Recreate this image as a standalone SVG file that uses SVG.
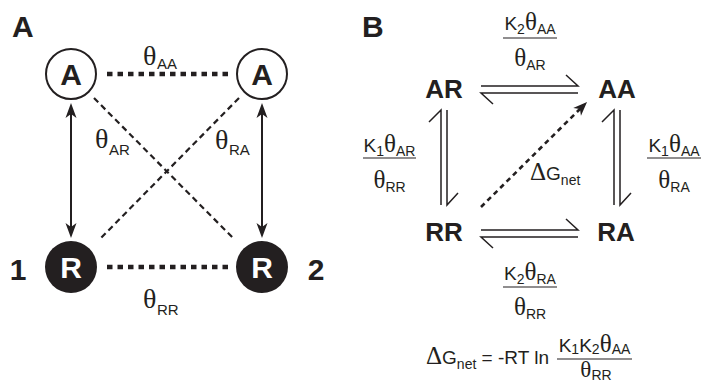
<svg xmlns="http://www.w3.org/2000/svg" width="703" height="383" viewBox="0 0 703 383">
<style>
.bold{font-family:"Liberation Sans",Arial,sans-serif;font-weight:bold;}
.lab{font-size:30px;}
.nd{font-size:30px;text-anchor:middle;}
.sp{font-size:26px;text-anchor:middle;}
.s{font-family:"Liberation Sans",Arial,sans-serif;font-size:19px;fill:#231f20;}
.th{font-family:"Liberation Serif","Times New Roman",serif;font-size:25px;}
.thA{font-family:"Liberation Serif","Times New Roman",serif;font-size:28px;}
.sub{font-size:14px;}
.subA{font-family:"Liberation Sans",Arial,sans-serif;font-size:15px;}
.dot{stroke:#231f20;stroke-width:4.5;stroke-dasharray:5.5 5;fill:none;}
.dash{stroke:#231f20;stroke-width:2.2;stroke-dasharray:6 4;fill:none;}
.arr{stroke:#231f20;stroke-width:2;fill:none;}
.eq{stroke:#231f20;stroke-width:1.5;fill:none;}
.fr{stroke:#231f20;stroke-width:1.2;}
</style>
<defs>
<marker id="ah" markerUnits="userSpaceOnUse" viewBox="-16 -8 18 16" refX="-4" refY="0" markerWidth="18" markerHeight="16" orient="auto-start-reverse" overflow="visible">
<path d="M0,0 L-15,-5.5 L-11,0 L-15,5.5 Z" fill="#231f20"/>
</marker>
<marker id="ah2" markerUnits="userSpaceOnUse" viewBox="-16 -8 18 16" refX="-4" refY="0" markerWidth="18" markerHeight="16" orient="auto" overflow="visible">
<path d="M0,0 L-14,-5.5 L-10,0 L-14,5.5 Z" fill="#231f20"/>
</marker>
</defs>

<g id="panelA-label"><text class="bold lab" x="12" y="37" fill="#231f20">A</text></g>
<g id="panelB-label"><text class="bold lab" x="362" y="37" fill="#231f20">B</text></g>

<g id="connectors">
<line class="dot" x1="107" y1="74" x2="228" y2="74"/>
<line class="dot" x1="107" y1="267" x2="228" y2="267"/>
<line class="dash" x1="94" y1="98" x2="233" y2="238"/>
<line class="dash" x1="239" y1="98" x2="99" y2="240"/>
<line class="arr" x1="71" y1="107" x2="71" y2="234" marker-start="url(#ah)" marker-end="url(#ah)"/>
<line class="arr" x1="262" y1="107" x2="262" y2="234" marker-start="url(#ah)" marker-end="url(#ah)"/>
<path class="eq" d="M481,86 H578 L566,75"/>
<path class="eq" d="M578,93 H481 L493,104"/>
<path class="eq" d="M481,230 H578 L566,219"/>
<path class="eq" d="M578,237 H481 L493,248"/>
<path class="eq" d="M441,205 V110 L429,122"/>
<path class="eq" d="M447,110 V205 L458,193"/>
<path class="eq" d="M614,205 V110 L602,122"/>
<path class="eq" d="M620,110 V205 L631,193"/>
<line x1="481" y1="207" x2="584.2" y2="104.8" stroke="#231f20" stroke-width="2.6" stroke-dasharray="5 4" marker-end="url(#ah2)"/>
</g>

<g id="nodeA1"><circle cx="71" cy="74" r="25" fill="#fff" stroke="#231f20" stroke-width="2"/><text class="bold nd" x="71" y="85" fill="#231f20">A</text></g>
<g id="nodeA2"><circle cx="262" cy="74" r="25" fill="#fff" stroke="#231f20" stroke-width="2"/><text class="bold nd" x="262" y="85" fill="#231f20">A</text></g>
<g id="nodeR1"><circle cx="71" cy="267" r="26" fill="#231f20"/><text class="bold nd" x="71" y="278" fill="#fff">R</text></g>
<g id="nodeR2"><circle cx="262" cy="267" r="26" fill="#231f20"/><text class="bold nd" x="262" y="278" fill="#fff">R</text></g>
<g id="num1"><text class="bold nd" x="18" y="280" fill="#231f20">1</text></g>
<g id="num2"><text class="bold nd" x="316" y="280" fill="#231f20">2</text></g>

<g id="thetaA" fill="#231f20">
<text class="thA" x="143" y="65">θ</text><text class="subA" x="157" y="69">AA</text>
<text class="thA" x="95" y="148">θ</text><text class="subA" x="109" y="155">AR</text>
<text class="thA" x="215" y="149">θ</text><text class="subA" x="229" y="155">RA</text>
<text class="thA" x="143" y="308">θ</text><text class="subA" x="157" y="315">RR</text>
</g>

<g id="nodeAR"><text class="bold sp" x="444" y="98" fill="#231f20">AR</text></g>
<g id="nodeAA"><text class="bold sp" x="617" y="98" fill="#231f20">AA</text></g>
<g id="nodeRR"><text class="bold sp" x="444" y="241" fill="#231f20">RR</text></g>
<g id="nodeRA"><text class="bold sp" x="616" y="241" fill="#231f20">RA</text></g>

<g id="fracTop">
<text class="s" x="530" y="30" text-anchor="middle">K<tspan class="sub" dy="4">2</tspan><tspan class="th" dy="-4">θ</tspan><tspan class="sub" dy="4">AA</tspan></text>
<line class="fr" x1="503" y1="38" x2="557" y2="38"/>
<text class="s" x="530" y="66" text-anchor="middle"><tspan class="th">θ</tspan><tspan class="sub" dy="4">AR</tspan></text>
</g>
<g id="fracLeft">
<text class="s" x="389.5" y="152" text-anchor="middle">K<tspan class="sub" dy="4">1</tspan><tspan class="th" dy="-4">θ</tspan><tspan class="sub" dy="4">AR</tspan></text>
<line class="fr" x1="363" y1="158" x2="416" y2="158"/>
<text class="s" x="389.5" y="188" text-anchor="middle"><tspan class="th">θ</tspan><tspan class="sub" dy="4">RR</tspan></text>
</g>
<g id="fracRight">
<text class="s" x="674" y="152" text-anchor="middle">K<tspan class="sub" dy="4">1</tspan><tspan class="th" dy="-4">θ</tspan><tspan class="sub" dy="4">AA</tspan></text>
<line class="fr" x1="647" y1="158" x2="701" y2="158"/>
<text class="s" x="674" y="188" text-anchor="middle"><tspan class="th">θ</tspan><tspan class="sub" dy="4">RA</tspan></text>
</g>
<g id="fracBottom">
<text class="s" x="530" y="280" text-anchor="middle">K<tspan class="sub" dy="4">2</tspan><tspan class="th" dy="-4">θ</tspan><tspan class="sub" dy="4">RA</tspan></text>
<line class="fr" x1="503" y1="287" x2="557" y2="287"/>
<text class="s" x="530" y="315" text-anchor="middle"><tspan class="th">θ</tspan><tspan class="sub" dy="4">RR</tspan></text>
</g>
<g id="dGlabel">
<text class="s" x="530" y="180"><tspan class="th">Δ</tspan>G<tspan class="sub" dy="5">net</tspan></text>
</g>
<g id="equation">
<text class="s" x="426" y="364"><tspan class="th">Δ</tspan>G<tspan class="sub" dy="5">net</tspan><tspan dy="-5"> =  -RT ln</tspan></text>
<text class="s" x="594.5" y="352" text-anchor="middle">K<tspan class="sub" dy="2">1</tspan><tspan dy="-2">K</tspan><tspan class="sub" dy="2">2</tspan><tspan class="th" dy="-2">θ</tspan><tspan class="sub" dy="2">AA</tspan></text>
<line class="fr" x1="557" y1="359" x2="632" y2="359"/>
<text class="s" x="596" y="377" text-anchor="middle"><tspan class="th" style="font-size:23px">θ</tspan><tspan class="sub" dy="3">RR</tspan></text>
</g>
</svg>
